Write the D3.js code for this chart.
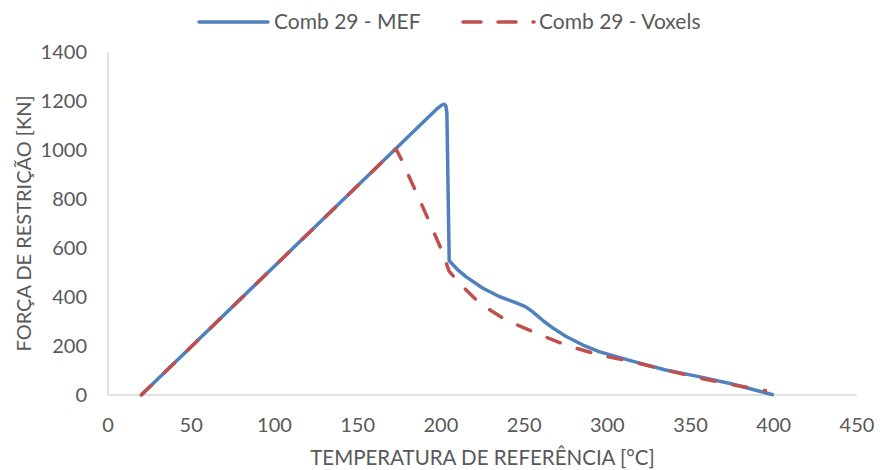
<!DOCTYPE html>
<html>
<head>
<meta charset="utf-8">
<script src="https://cdn.jsdelivr.net/npm/d3@7"></script>
<style>
  body { margin: 0; background: #fff; }
  text { font-family: Lato, "Open Sans", sans-serif; fill: #595959; }
</style>
</head>
<body>
<svg id="chart" width="880" height="470"></svg>
<script>
// Series data
const mefTemp  = [20, 198, 200.5, 202, 203, 203.6, 205, 210, 215, 225, 235, 245, 251, 255, 262, 268, 275, 285, 295, 315, 335, 355, 375, 400];
const mefForce = [0, 1170, 1183, 1187, 1180, 1150, 548, 512, 483, 437, 402, 377, 360, 340, 300, 270, 240, 205, 177, 138, 102, 75, 45, 0];

const voxTemp  = [20, 173, 176, 180, 187, 194, 200, 205, 212, 221, 230, 239, 255, 275, 295, 315, 335, 355, 375, 395];
const voxForce = [0, 1005, 965, 905, 800, 692, 598, 505, 450, 390, 345, 306, 259, 204, 163, 136, 102, 70, 42, 18];

const xTicks = [0, 50, 100, 150, 200, 250, 300, 350, 400, 450];
const yTicks = [0, 200, 400, 600, 800, 1000, 1200, 1400];

const seriesNames = ["Comb 29 - MEF", "Comb 29 - Voxels"];
const seriesColors = ["#4F81BD", "#C0504D"];

const svg = d3.select("#chart");
const margin = { left: 108, right: 23, top: 52, bottom: 75 };
const width = +svg.attr("width");
const height = +svg.attr("height");

const x = d3.scaleLinear().domain([0, 450]).range([margin.left, width - margin.right]);
const y = d3.scaleLinear().domain([0, 1400]).range([height - margin.bottom, margin.top]);

// Axis lines
svg.append("line")
    .attr("x1", x(0)).attr("x2", x(0))
    .attr("y1", y(0)).attr("y2", y(1400))
    .attr("stroke", "#d9d9d9").attr("stroke-width", 1.5);
svg.append("line")
    .attr("x1", x(0)).attr("x2", x(450))
    .attr("y1", y(0)).attr("y2", y(0))
    .attr("stroke", "#d9d9d9").attr("stroke-width", 1.5);

// Tick labels
svg.append("g").selectAll("text")
    .data(yTicks).enter().append("text")
    .attr("x", x(0) - 21)
    .attr("y", d => y(d))
    .attr("dy", "0.35em")
    .attr("text-anchor", "end")
    .attr("font-size", 20)
    .text(d => d);

svg.append("g").selectAll("text")
    .data(xTicks).enter().append("text")
    .attr("x", d => x(d))
    .attr("y", y(0) + 37)
    .attr("text-anchor", "middle")
    .attr("font-size", 20)
    .text(d => d);

// Axis titles
svg.append("text")
    .attr("x", (x(0) + x(450)) / 2)
    .attr("y", 465)
    .attr("text-anchor", "middle")
    .attr("font-size", 20.5)
    .text("TEMPERATURA DE REFERÊNCIA [°C]");

svg.append("text")
    .attr("transform", `translate(31, ${(y(0) + y(1400)) / 2}) rotate(-90)`)
    .attr("text-anchor", "middle")
    .attr("font-size", 20)
    .text("FORÇA DE RESTRIÇÃO [KN]");

// Lines
const line = d3.line()
    .x(d => x(d[0]))
    .y(d => y(d[1]));

const mefData = mefTemp.map((t, i) => [t, mefForce[i]]);
const voxData = voxTemp.map((t, i) => [t, voxForce[i]]);

svg.append("path")
    .datum(mefData)
    .attr("d", line)
    .attr("fill", "none")
    .attr("stroke", seriesColors[0])
    .attr("stroke-width", 3.5)
    .attr("stroke-linejoin", "round");

svg.append("path")
    .datum(voxData)
    .attr("d", line)
    .attr("fill", "none")
    .attr("stroke", seriesColors[1])
    .attr("stroke-width", 3.5)
    .attr("stroke-dasharray", "14,18")
    .attr("stroke-linejoin", "round")
    .attr("stroke-linecap", "round");

// Legend
const legend = svg.append("g");
legend.append("line")
    .attr("x1", 199).attr("x2", 268).attr("y1", 22).attr("y2", 22)
    .attr("stroke", seriesColors[0]).attr("stroke-width", 3.5).attr("stroke-linecap", "round");
legend.append("text")
    .attr("x", 274).attr("y", 22).attr("dy", "0.35em")
    .attr("font-size", 21)
    .text(seriesNames[0]);
legend.append("line")
    .attr("x1", 463).attr("x2", 534).attr("y1", 22).attr("y2", 22)
    .attr("stroke", seriesColors[1]).attr("stroke-width", 3.5)
    .attr("stroke-dasharray", "18,17").attr("stroke-linecap", "round");
legend.append("text")
    .attr("x", 539).attr("y", 22).attr("dy", "0.35em")
    .attr("font-size", 21)
    .text(seriesNames[1]);
</script>
</body>
</html>
